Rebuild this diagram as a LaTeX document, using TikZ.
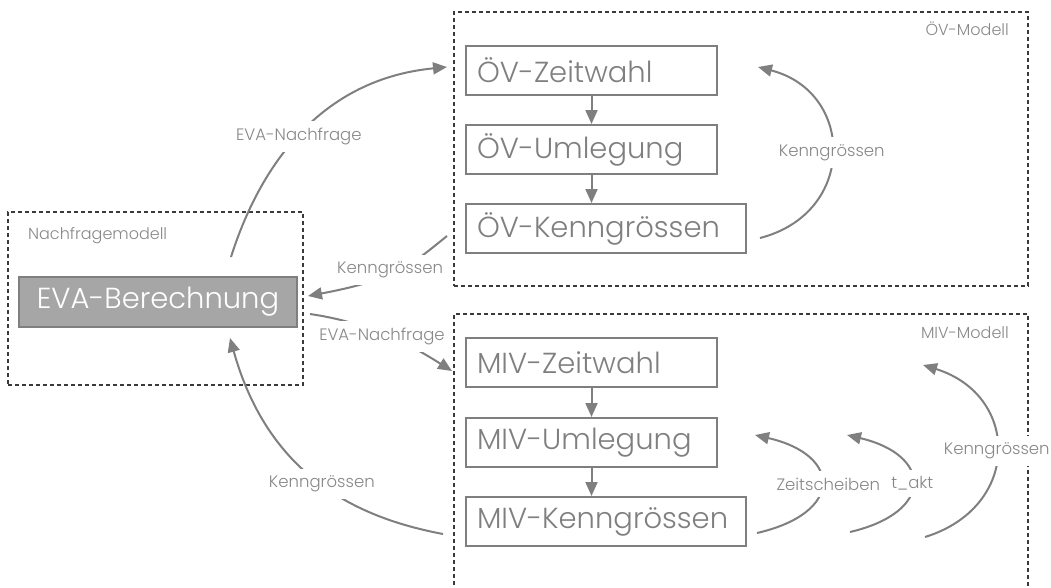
\documentclass[tikz,border=0pt]{standalone}
\usepackage{fontspec}
\setmainfont{Poppins}[UprightFont={* Light}]
\usetikzlibrary{arrows.meta}
\definecolor{boxgray}{HTML}{7F7F7F}
\definecolor{lblgray}{HTML}{888888}
\definecolor{evafill}{HTML}{A6A6A6}
\definecolor{framegray}{HTML}{3A3A3A}

\begin{document}
\begin{tikzpicture}[x=1pt,y=-1pt,
  frame/.style={draw=framegray, line width=1.1pt, dash pattern=on 4pt off 3pt,
    anchor=north west, inner sep=0pt, outer sep=0pt},
  stepbox/.style={draw=boxgray, line width=2pt, anchor=north west,
    minimum height=49pt, inner xsep=11pt, inner ysep=0pt, text width=#1,
    align=left, text=boxgray, font=\fontsize{29}{34}\selectfont},
  evabox/.style={stepbox=250pt, inner xsep=14pt, align=center,
    fill=evafill, text=white, minimum height=50pt},
  lbl/.style={fill=white, text=lblgray, inner xsep=4pt, inner ysep=7pt,
    font=\fontsize{16.5}{20}\selectfont},
  title/.style={text=lblgray, inner sep=0pt, font=\fontsize{16}{19}\selectfont},
  arr/.style={draw=boxgray, line width=2pt, -{Triangle[length=14pt,width=12pt]}},
]
\clip (0,0) rectangle (1051,587);

% model frames
\node[frame, minimum width=295pt, minimum height=173pt] (nfm) at (8,212) {};
\node[frame, minimum width=574pt, minimum height=274pt] (ovm) at (454,12) {};
\node[frame, minimum width=574pt, minimum height=300pt] (mivm) at (454,314) {};

\node[title, anchor=base west] (nfmt) at (28,239) {Nachfragemodell};
\node[title, anchor=base east] (ovmt) at (1009,35) {ÖV-Modell};
\node[title, anchor=base east] (mivmt) at (1009,338) {MIV-Modell};

% process steps
\node[evabox] (eva) at (18,276) {EVA-Berechnung};

\node[stepbox=229pt] (ovz) at (465,45) {ÖV-Zeitwahl};
\node[stepbox=229pt] (ovu) at (465,124) {ÖV-Umlegung};
\node[stepbox=258pt] (ovk) at (465,203) {ÖV-Kenngrössen};

\node[stepbox=229pt] (mz) at (465,337) {MIV-Zeitwahl};
\node[stepbox=229pt] (mu) at (465,417) {MIV-Umlegung};
\node[stepbox=258pt] (mk) at (465,496) {MIV-Kenngrössen};

% chain arrows
\draw[arr] (ovz.south) -- (ovu.north);
\draw[arr] (ovu.south) -- (ovu.south |- ovk.north);
\draw[arr] (mz.south) -- (mu.north);
\draw[arr] (mu.south) -- (mu.south |- mk.north);

% connector end points
\coordinate (s1) at (231,257);  \coordinate (e1) at (447,67);
\coordinate (s2) at (760,238);  \coordinate (e2) at (758,67);
\coordinate (s3) at (447,236);  \coordinate (e3) at (308,296);
\coordinate (s4) at (310,314);  \coordinate (e4) at (452,371);
\coordinate (s5) at (443,534);  \coordinate (e5) at (230,338);
\coordinate (s6) at (757,533);  \coordinate (e6) at (755,435);
\coordinate (s7) at (850,532);  \coordinate (e7) at (847,435);
\coordinate (s8) at (925,537);  \coordinate (e8) at (923,365);

% demand and skim flows
\draw[arr] (s1) .. controls (257,175) and (314,80) .. node[lbl] (l1) {EVA-Nachfrage} (e1);
\draw[arr] (s2) .. controls (857,213) and (855,92) .. node[lbl] (l2) {Kenngrössen} (e2);
\draw[arr] (s3) .. controls (412,264) and (398,279) .. node[lbl, xshift=-8pt] (l3) {Kenngrössen} (e3);
\draw[arr] (s4) .. controls (372,323) and (414,347) .. node[lbl, xshift=-8pt] (l4) {EVA-Nachfrage} (e4);
\draw[arr] (s5) .. controls (364,519) and (270,481) .. node[lbl] (l5) {Kenngrössen} (e5);
\draw[arr] (s6) .. controls (844,513) and (842,455) .. node[lbl, xshift=7pt] (l6) {Zeitscheiben} (e6);
\draw[arr] (s7) .. controls (935,512) and (932,455) .. node[lbl] (l7) {t\_akt} (e7);
\draw[arr] (s8) .. controls (1022,507) and (1020,395) .. node[lbl] (l8) {Kenngrössen} (e8);
\end{tikzpicture}
\end{document}
